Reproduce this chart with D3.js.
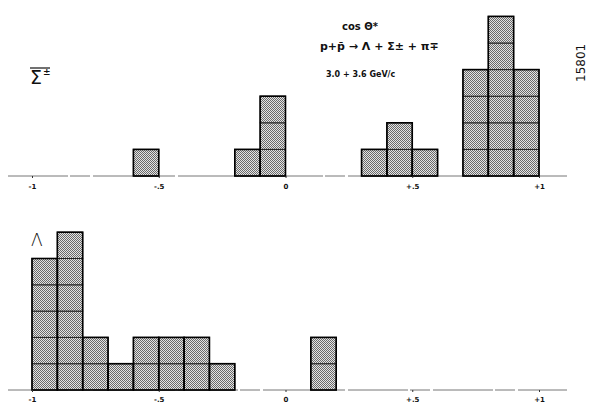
<!DOCTYPE html>
<html>
<head>
<meta charset="utf-8">
<script src="https://cdn.jsdelivr.net/npm/d3@7"></script>
<style>
  body { margin: 0; background: #fff; }
  svg { display: block; }
  text { font-family: "DejaVu Sans", sans-serif; fill: #111; }
</style>
</head>
<body>
<div id="chart"></div>
<script>
// bin lower edges (width 0.1) and event counts
const binWidth = 0.1;
const sigmaBins = [-0.6, -0.2, -0.1, 0.3, 0.4, 0.5, 0.7, 0.8, 0.9];
const sigmaCounts = [1, 1, 3, 1, 2, 1, 4, 6, 4];
const lambdaBins = [-1.0, -0.9, -0.8, -0.7, -0.6, -0.5, -0.4, -0.3, 0.1];
const lambdaCounts = [5, 6, 2, 1, 2, 2, 2, 1, 2];
const tickValues = [-1, -0.5, 0, 0.5, 1];
const tickLabels = ['-1', '-.5', '0', '+.5', '+1'];

const width = 594, height = 403;

const svg = d3.select('#chart').append('svg')
  .attr('width', width)
  .attr('height', height);

// stipple fill like the old halftone
const defs = svg.append('defs');
const pat = defs.append('pattern')
  .attr('id', 'stipple')
  .attr('width', 2).attr('height', 2)
  .attr('patternUnits', 'userSpaceOnUse');
pat.append('rect').attr('width', 2).attr('height', 2).attr('fill', '#e4e4e4');
pat.append('rect').attr('x', 0).attr('y', 0).attr('width', 1).attr('height', 1).attr('fill', '#6a6a6a');
pat.append('rect').attr('x', 1).attr('y', 1).attr('width', 1).attr('height', 1).attr('fill', '#6a6a6a');

const x = d3.scaleLinear().domain([-1, 1]).range([32, 539]);

function drawPanel(bins, counts, baseline, unit, labelY) {
  const maxCount = d3.max(counts);
  const y = d3.scaleLinear().domain([0, maxCount]).range([baseline, baseline - unit * maxCount]);
  const g = svg.append('g');

  // baseline
  g.append('line')
    .attr('x1', 8).attr('x2', 567)
    .attr('y1', baseline).attr('y2', baseline)
    .attr('stroke', '#777')
    .attr('stroke-width', 1)
    .attr('stroke-dasharray', '60,2,20,3');

  // one cell per event
  const cells = bins.flatMap((b, i) => d3.range(counts[i]).map(k => ({ b, k })));
  g.selectAll('rect.cell')
    .data(cells)
    .join('rect')
    .attr('class', 'cell')
    .attr('x', d => x(d.b))
    .attr('width', d => x(d.b + binWidth) - x(d.b))
    .attr('y', d => y(d.k + 1))
    .attr('height', d => y(d.k) - y(d.k + 1))
    .attr('fill', 'url(#stipple)')
    .attr('stroke', '#222')
    .attr('stroke-width', 1);

  // outline of each bin
  g.selectAll('rect.bin')
    .data(bins)
    .join('rect')
    .attr('class', 'bin')
    .attr('x', d => x(d))
    .attr('width', d => x(d + binWidth) - x(d))
    .attr('y', (d, i) => y(counts[i]))
    .attr('height', (d, i) => y(0) - y(counts[i]))
    .attr('fill', 'none')
    .attr('stroke', '#000')
    .attr('stroke-width', 1.6);

  // tick marks and labels
  const axis = d3.axisBottom(x)
    .tickValues(tickValues)
    .tickSize(2)
    .tickFormat((d, i) => tickLabels[i]);
  const ax = g.append('g')
    .attr('transform', `translate(0, ${baseline})`)
    .call(axis);
  ax.select('.domain').remove();
  ax.selectAll('line').attr('stroke', '#333');
  ax.selectAll('text')
    .attr('y', labelY - baseline)
    .attr('dy', 0)
    .style('font-size', '7px')
    .style('font-weight', 'bold');
}

drawPanel(sigmaBins, sigmaCounts, 176, 26.6, 189);
drawPanel(lambdaBins, lambdaCounts, 390, 26.3, 402);

// panel labels
const sig = svg.append('g').attr('transform', 'translate(30, 84)');
sig.append('text').text('Σ').style('font-size', '19px');
sig.append('text').attr('x', 13).attr('y', -9).text('±').style('font-size', '9px').style('font-weight', 'bold');
sig.append('line').attr('x1', 0).attr('x2', 20).attr('y1', -16).attr('y2', -16)
  .attr('stroke', '#111').attr('stroke-width', 1.2);

svg.append('text').attr('x', 31).attr('y', 246).text('Λ')
  .style('font-size', '17px').style('font-weight', '300');

// annotation
svg.append('text').attr('x', 342).attr('y', 30)
  .style('font-size', '10px').style('font-weight', 'bold')
  .text('cos Θ*');
svg.append('text').attr('x', 320).attr('y', 50)
  .style('font-size', '11px').style('font-weight', 'bold')
  .text('p+p̄ → Λ + Σ± + π∓');
svg.append('text').attr('x', 326).attr('y', 77)
  .style('font-size', '8px').style('font-weight', 'bold')
  .text('3.0 + 3.6 GeV/c');

svg.append('text')
  .attr('transform', 'translate(585, 82) rotate(-90)')
  .style('font-size', '12px')
  .text('15801');
</script>
</body>
</html>
